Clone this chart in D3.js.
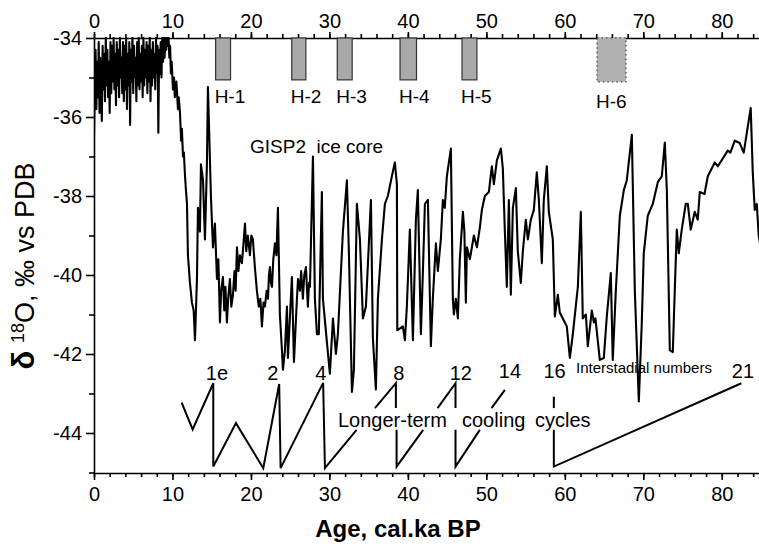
<!DOCTYPE html>
<html><head><meta charset="utf-8">
<script src="https://cdn.jsdelivr.net/npm/d3@7"></script>
<style>body{margin:0;background:#fff} text{font-family:"Liberation Sans",Arial,Helvetica,sans-serif;fill:#000}</style>
</head><body><svg id="c" width="759" height="544"></svg>
<script>
// ---- data ----
const ageKa = [0.0,0.1,0.2,0.3,0.4,0.5,0.6,0.7,0.8,0.9,1.0,1.1,1.2,1.3,1.4,1.5,1.6,1.7,1.8,1.9,2.0,2.1,2.2,2.3,2.4,2.5,2.6,2.7,2.8,2.9,3.0,3.1,3.2,3.3,3.4,3.5,3.6,3.7,3.8,3.9,4.0,4.1,4.2,4.3,4.4,4.5,4.6,4.7,4.8,4.9,5.0,5.1,5.2,5.3,5.4,5.5,5.6,5.7,5.8,5.9,6.0,6.1,6.2,6.3,6.4,6.5,6.6,6.7,6.8,6.9,7.0,7.1,7.2,7.3,7.4,7.5,7.6,7.7,7.8,7.9,8.0,8.1,8.2,8.3,8.4,8.5,8.6,8.7,8.8,8.9,9.0,9.1,9.2,9.3,
9.4,9.5,9.6,9.7,9.8,9.9,10.06,10.2,10.3,10.5,10.7,10.8,10.96,11.1,11.2,11.34,11.45,11.6,11.7,11.85,11.97,12.23,12.48,12.7,12.87,13.12,13.25,13.5,13.63,13.89,14.14,14.39,14.52,14.9,15.16,15.41,15.67,15.85,16.05,16.2,16.43,16.6,16.75,16.94,17.1,17.32,17.5,17.71,17.9,18.05,18.22,18.4,18.6,18.85,19.05,19.24,19.4,19.6,19.87,20.05,20.25,20.5,20.76,21.0,21.2,21.4,21.6,21.78,22.0,22.17,22.3,22.42,22.55,22.68,22.85,23.06,23.25,23.44,23.69,23.95,24.08,24.33,24.59,24.71,25.22,25.48,25.86,26.0,26.24,26.4,26.62,26.8,27.01,27.15,27.26,27.4,27.52,27.9,28.15,28.41,28.65,29.04,29.17,29.68,30.06,30.45,30.83,31.08,31.72,32.23,32.48,32.87,33.12,33.5,33.89,34.27,34.65,35.29,35.54,35.92,36.18,36.69,37.07,37.45,37.96,38.34,38.6,38.65,39.36,39.62,39.87,40.25,40.64,41.02,41.27,41.66,41.9,42.17,42.55,42.93,43.18,43.57,43.82,44.2,44.46,44.7,44.97,45.48,45.73,45.86,46.11,46.37,46.62,47.01,47.2,47.39,47.52,47.9,48.41,48.8,49.17,49.43,49.81,50.32,50.7,50.96,51.34,51.85,52.1,52.36,52.61,52.87,53.12,53.38,53.76,54.01,54.39,54.65,55.03,55.29,55.67,56.05,56.43,56.69,57.07,57.32,57.71,57.96,58.47,58.73,59.11,59.36,59.87,60.25,60.64,61.02,61.66,62.04,62.29,62.68,62.93,63.44,63.7,63.9,64.46,64.97,65.35,65.86,66.11,66.5,67.01,67.52,67.9,68.54,68.92,69.43,69.81,70.06,70.57,71.21,71.85,72.36,72.74,73.0,73.38,73.76,74.01,74.27,74.52,74.9,75.41,75.67,76.05,76.56,76.94,77.2,77.8,78.22,79.11,79.49,80.13,80.76,81.1,81.66,82.29,82.8,83.69,83.95,84.2,84.46,84.71,84.97];
const d18O = [-36.5,-35.2,-34.3,-35.8,-34.6,-35.5,-34.1,-35.9,-34.5,-35.4,-36.1,-34.2,-35.3,-34.4,-35.6,-34.0,-35.2,-34.3,-35.5,-34.6,-35.9,-34.1,-35.4,-34.2,-35.1,-34.0,-35.3,-34.4,-35.7,-34.1,-35.2,-34.3,-35.5,-34.0,-35.0,-34.5,-35.4,-34.1,-35.6,-34.2,-35.3,-34.0,-35.8,-34.4,-35.2,-34.1,-36.2,-34.3,-35.1,-34.0,-35.4,-34.2,-35.0,-34.5,-35.6,-34.1,-35.2,-34.0,-35.3,-34.4,-35.1,-34.2,-35.5,-34.0,-35.2,-34.3,-35.0,-34.1,-35.4,-34.2,-35.1,-34.0,-35.6,-34.3,-35.2,-34.1,-35.0,-34.4,-35.3,-34.0,-34.9,-34.2,-36.4,-34.3,-34.9,-34.1,-35.0,-34.0,-34.6,-34.0,-34.5,-34.0,-34.3,-34.0,
-34.2,-34.0,-34.5,-34.2,-34.9,-34.6,-35.3,-35.0,-35.5,-35.1,-35.8,-35.5,-35.9,-36.6,-36.3,-37.0,-36.9,-37.5,-37.8,-38.2,-39.5,-40.2,-40.7,-40.9,-41.65,-40.1,-38.3,-38.9,-37.2,-37.6,-39.1,-37.2,-35.24,-38.0,-39.3,-38.7,-40.1,-39.6,-41.2,-40.4,-40.05,-40.9,-40.3,-41.2,-40.6,-40.1,-40.8,-40.5,-39.9,-40.4,-39.3,-39.9,-39.5,-39.7,-39.2,-38.7,-39.4,-39.0,-39.5,-39.0,-39.1,-39.8,-40.4,-40.8,-40.6,-41.3,-40.7,-40.8,-40.4,-40.6,-40.0,-39.8,-40.2,-40.3,-39.6,-39.2,-39.5,-38.3,-41.0,-41.9,-42.4,-41.9,-40.8,-42.1,-40.05,-42.2,-40.6,-40.1,-40.4,-39.9,-40.6,-40.0,-39.8,-40.4,-40.8,-40.2,-40.3,-37.0,-40.6,-41.5,-41.5,-37.9,-40.6,-41.7,-42.5,-41.1,-42.0,-41.5,-38.9,-37.6,-39.4,-42.96,-42.4,-38.2,-39.1,-41.1,-40.8,-38.1,-41.6,-42.9,-40.6,-39.1,-38.2,-38.0,-37.5,-37.15,-37.7,-41.4,-41.3,-41.65,-40.8,-38.85,-41.65,-38.6,-37.85,-41.5,-40.0,-38.2,-38.1,-41.8,-40.6,-39.2,-39.9,-39.1,-38.1,-38.3,-37.5,-36.8,-40.6,-41.0,-40.6,-41.1,-39.6,-38.4,-38.9,-40.7,-39.3,-39.6,-39.0,-39.3,-38.8,-38.35,-38.0,-37.9,-37.25,-37.7,-37.1,-36.8,-37.3,-38.9,-40.3,-38.1,-40.5,-38.3,-37.8,-39.4,-40.2,-39.4,-38.6,-39.1,-38.6,-38.35,-37.4,-38.1,-39.7,-38.1,-37.25,-38.4,-39.1,-41.05,-40.5,-40.95,-41.15,-41.3,-42.1,-41.5,-40.3,-38.4,-41.1,-41.0,-41.8,-40.9,-41.2,-41.1,-42.15,-42.1,-41.05,-39.95,-42.15,-40.4,-38.5,-37.85,-37.6,-36.45,-40.4,-43.2,-41.2,-39.45,-38.5,-38.2,-37.65,-37.5,-36.65,-37.85,-41.9,-41.95,-40.4,-38.85,-39.45,-38.85,-38.2,-38.2,-38.85,-38.4,-38.6,-37.9,-37.95,-37.5,-37.15,-37.25,-37.05,-36.85,-36.9,-36.6,-36.66,-36.9,-35.77,-37.4,-38.35,-38.2,-39.0,-39.3];

// Heinrich events: [start age, end age]
const heinrichNames = ["H-1","H-2","H-3","H-4","H-5","H-6"];
const heinrichStart = [15.5, 25.2, 31.0, 39.0, 46.9, 64.1];
const heinrichEnd   = [17.4, 27.0, 32.9, 41.1, 48.8, 67.8];
const heinrichBottom = [-35.06,-35.06,-35.06,-35.06,-35.06,-35.11];

// Longer-term cooling cycles (sawtooth), separate segments [age, d18O]
const coolingSegments = [
  [[11.17,-43.23],[12.57,-43.91],[15.2,-42.74],[15.2,-44.85],[18.09,-43.75],[21.57,-44.89],[23.6,-42.76],[23.78,-44.89],[29.2,-42.73],[29.43,-44.89],[33.46,-43.92]],
  [[35.8,-43.37],[38.47,-42.74],[38.47,-43.37]],
  [[38.56,-43.92],[38.56,-44.85],[41.95,-43.92]],
  [[43.78,-43.37],[46.07,-42.74],[46.07,-43.37]],
  [[46.07,-43.92],[46.07,-44.85],[49.17,-43.92]],
  [[50.66,-43.37],[52.36,-42.91]],
  [[58.6,-43.08],[58.6,-43.37]],
  [[58.6,-43.92],[58.6,-44.85],[82.5,-42.74]]
];
const interstadialLabels = ["1e","2","4","8","12","14","16","21"];
const interstadialAges = [15.67,22.8,28.9,38.85,46.75,53.0,58.7,82.7];

const xMajor = [0,10,20,30,40,50,60,70,80];
const yMajor = [-44,-42,-40,-38,-36,-34];

// ---- chart ----
const svg = d3.select("#c");
const x = d3.scaleLinear([0,85],[94,761]);
const y = d3.scaleLinear([-45,-34],[472.5,38]);
const fs = "20px";

function styleAxis(g){
  g.selectAll("path,line").attr("stroke","#000").attr("stroke-width",1.6);
  g.selectAll("text").style("font-size",fs).attr("fill","#000");
}
const xMinor = d3.range(0,85,2);
const yMinor = [-45,-43,-41,-39,-37,-35];

// top axis
svg.append("g").attr("transform","translate(0,38)")
  .call(d3.axisTop(x).tickValues(xMinor).tickSize(4).tickSizeOuter(0).tickFormat(""))
  .call(styleAxis);
svg.append("g").attr("transform","translate(0,38)")
  .call(d3.axisTop(x).tickValues(xMajor).tickSize(6).tickSizeOuter(0).tickPadding(4).tickFormat(d=>String(d)))
  .call(styleAxis).call(g=>g.select(".domain").remove());
// bottom axis
svg.append("g").attr("transform","translate(0,473)")
  .call(d3.axisBottom(x).tickValues(xMinor).tickSize(4).tickSizeOuter(0).tickFormat(""))
  .call(styleAxis);
svg.append("g").attr("transform","translate(0,473)")
  .call(d3.axisBottom(x).tickValues(xMajor).tickSize(7).tickSizeOuter(0).tickPadding(7).tickFormat(d=>String(d)))
  .call(styleAxis).call(g=>g.select(".domain").remove());
// left axis
svg.append("g").attr("transform","translate(94,0)")
  .call(d3.axisLeft(y).tickValues(yMinor).tickSize(5).tickSizeOuter(0).tickFormat(""))
  .call(styleAxis);
svg.append("g").attr("transform","translate(94,0)")
  .call(d3.axisLeft(y).tickValues(yMajor).tickSize(8).tickSizeOuter(0).tickPadding(4).tickFormat(d=>String(d)))
  .call(styleAxis).call(g=>g.select(".domain").remove());

// Heinrich boxes
const hData = heinrichNames.map((n,i)=>({n, s:heinrichStart[i], e:heinrichEnd[i], b:heinrichBottom[i]}));
svg.append("g").selectAll("rect").data(hData).join("rect")
  .attr("x",d=>x(d.s)).attr("y",y(-34)).attr("width",d=>x(d.e)-x(d.s)).attr("height",d=>y(d.b)-y(-34))
  .attr("fill",(d,i)=>i===5?"#b0b0b0":"#a9a9a9")
  .attr("stroke",(d,i)=>i===5?"#444":"#333").attr("stroke-width",1.2)
  .attr("stroke-dasharray",(d,i)=>i===5?"1.5,3":null);
svg.append("g").selectAll("text").data(hData).join("text")
  .attr("x",d=>x(d.s)-1).attr("y",(d,i)=>i===5?108:103)
  .style("font-size","19px").text(d=>d.n);

// main curve
const pts = ageKa.map((a,i)=>[a,d18O[i]]);
svg.append("defs").append("clipPath").attr("id","clip").append("rect")
  .attr("x",94).attr("y",37).attr("width",667).attr("height",436);
svg.append("path").datum(pts).attr("clip-path","url(#clip)")
  .attr("d",d3.line().x(d=>x(d[0])).y(d=>y(d[1])))
  .attr("fill","none").attr("stroke","#000").attr("stroke-width",2.1).attr("stroke-linejoin","round");

// cooling sawtooth
svg.append("g").selectAll("path").data(coolingSegments).join("path")
  .attr("d",d3.line().x(d=>x(d[0])).y(d=>y(d[1])))
  .attr("fill","none").attr("stroke","#000").attr("stroke-width",2);

svg.append("g").selectAll("text").data(interstadialLabels).join("text")
  .attr("x",(d,i)=>x(interstadialAges[i])).attr("y",(d,i)=>i>=5?378:380)
  .attr("text-anchor","middle").style("font-size",fs).text(d=>d);

svg.append("text").attr("x",576).attr("y",373).style("font-size","15px").text("Interstadial numbers");
svg.append("text").attr("x",338).attr("y",427).style("font-size",fs).text("Longer-term");
svg.append("text").attr("x",462).attr("y",427).style("font-size",fs).text("cooling");
svg.append("text").attr("x",535).attr("y",427).style("font-size",fs).text("cycles");
svg.append("text").attr("x",250).attr("y",153).style("font-size","19px").style("white-space","pre").text("GISP2  ice core");

// axis titles
svg.append("text").attr("x",398).attr("y",537).attr("text-anchor","middle")
  .style("font-size","24px").style("font-weight","bold").text("Age, cal.ka BP");
const yl = svg.append("text").attr("transform","translate(34,266) rotate(-90)")
  .attr("text-anchor","middle").style("font-size","27px");
yl.append("tspan").text("δ").style("font-weight","bold").style("font-size","31px");
yl.append("tspan").text(" ");
yl.append("tspan").text("18").attr("dy",-10).style("font-size","18px");
yl.append("tspan").text("O, ‰ vs PDB").attr("dy",10);
</script></body></html>
